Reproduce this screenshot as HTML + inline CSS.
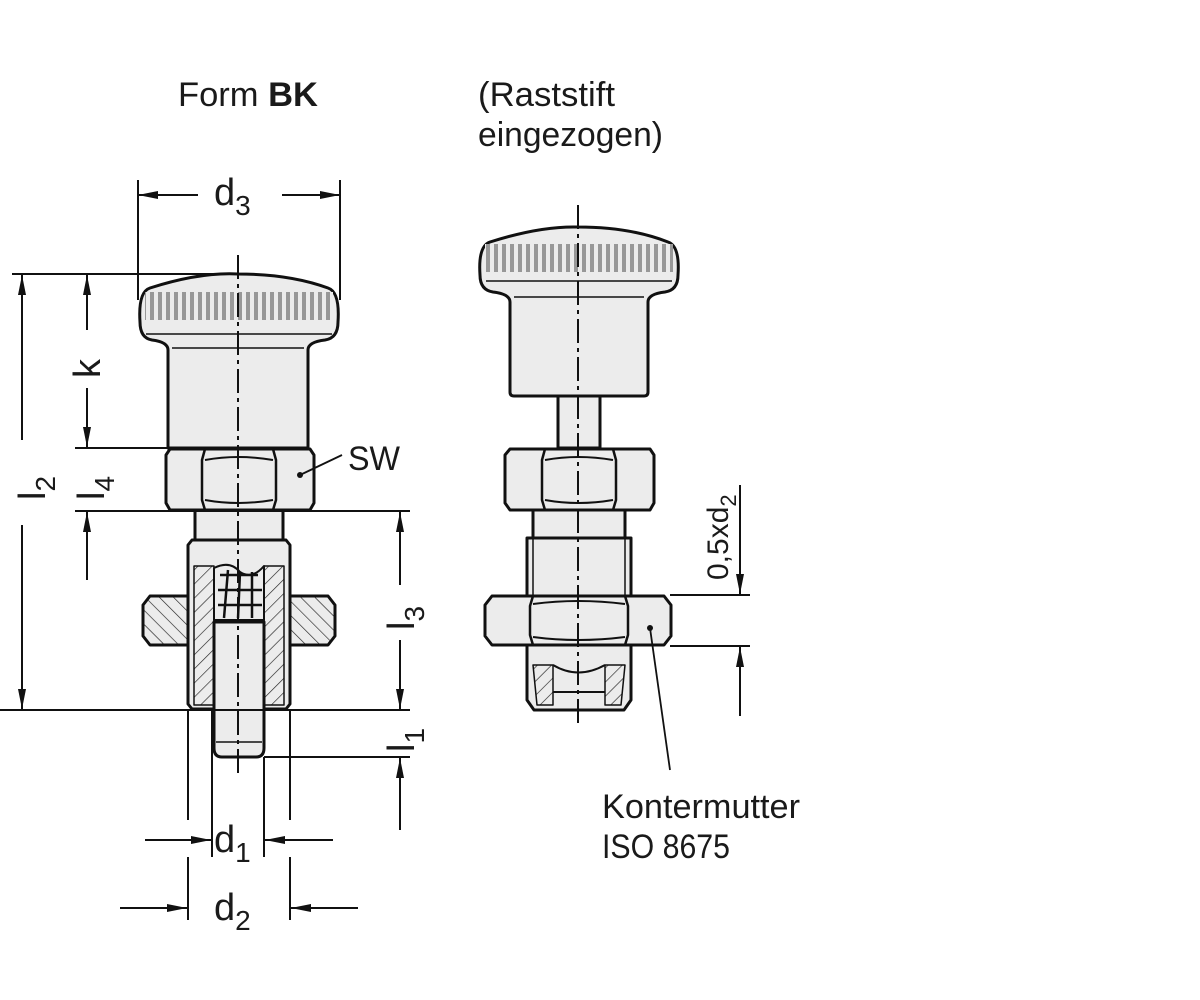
<!DOCTYPE html>
<html><head><meta charset="utf-8"><style>
html,body{margin:0;padding:0;background:#fff;}
svg{display:block;}
text{font-family:"Liberation Sans Narrow","Liberation Sans",sans-serif;fill:#1a1a1a;}
</style></head><body>
<svg width="1200" height="1000" viewBox="0 0 1200 1000" xmlns="http://www.w3.org/2000/svg">
<defs>
<pattern id="knurl" width="8" height="40" patternUnits="userSpaceOnUse">
<rect width="8" height="40" fill="#ececec"/>
<path d="M1 4 V40 M4 0 L1 4 M4 0 L7 4 M7 4 V40" stroke="#333" stroke-width="0.9" fill="none"/>
</pattern>
<pattern id="hatch" width="10" height="10" patternUnits="userSpaceOnUse" patternTransform="rotate(45)">
<rect width="10" height="10" fill="#ececec"/>
<line x1="0" y1="0" x2="0" y2="10" stroke="#222" stroke-width="1.3"/>
</pattern>
<pattern id="hatch2" width="10" height="10" patternUnits="userSpaceOnUse" patternTransform="rotate(-45)">
<rect width="10" height="10" fill="#ececec"/>
<line x1="0" y1="0" x2="0" y2="10" stroke="#222" stroke-width="1.3"/>
</pattern>
<marker id="ar" viewBox="0 0 20 10" refX="20" refY="5" markerWidth="20" markerHeight="10" markerUnits="userSpaceOnUse" orient="auto-start-reverse">
<path d="M0 1 L20 5 L0 9 Z" fill="#111"/>
</marker>
</defs>

<text x="178" y="106" font-size="34" textLength="140" lengthAdjust="spacingAndGlyphs">Form <tspan font-weight="bold">BK</tspan></text>
<text x="478" y="106" font-size="34" textLength="137" lengthAdjust="spacingAndGlyphs">(Raststift</text>
<text x="478" y="146" font-size="34" textLength="185" lengthAdjust="spacingAndGlyphs">eingezogen)</text>

<g stroke="#111" stroke-width="3" fill="#ececec" stroke-linejoin="round">
<!-- LEFT -->
<path d="M140 322 Q138 292 150 288 Q200 272 238 274 Q290 274 328 288 Q340 292 338 322 Q338 338 325 340 Q308 342 308 350 L308 448 L168 448 L168 350 Q168 342 152 340 Q140 338 140 322 Z"/>
<rect x="145" y="292" width="188" height="28" fill="url(#knurl)" stroke="none"/>
<line x1="146" y1="334" x2="332" y2="334" stroke-width="1.5"/>
<line x1="172" y1="348" x2="304" y2="348" stroke-width="1.5"/>
<path d="M166 455 L170 449 L310 449 L314 455 L314 503 L310 510 L170 510 L166 503 Z"/>
<path d="M205 449 L202 460 L202 500 L205 510 M273 449 L276 460 L276 500 L273 510" fill="none" stroke-width="2.5"/>
<path d="M205 460 Q238 454 273 460 M205 500 Q238 506 273 500" fill="none" stroke-width="2"/>
<rect x="195" y="510" width="88" height="32"/>
<path d="M143 605 L150 596 L188 596 L188 645 L150 645 L143 636 Z" fill="url(#hatch2)"/>
<path d="M335 605 L328 596 L290 596 L290 645 L328 645 L335 636 Z" fill="url(#hatch2)"/>
<path d="M188 545 L192 540 L286 540 L290 545 L290 704 L286 709 L192 709 L188 704 Z"/>
<path d="M194 566 L214 566 L214 705 L194 705 Z" fill="url(#hatch)" stroke-width="1.5"/>
<path d="M264 566 L284 566 L284 705 L264 705 Z" fill="url(#hatch)" stroke-width="1.5"/>
<path d="M214 568 Q230 560 240 572 Q252 580 264 566 L264 620 L214 620 Z" fill="#ececec" stroke-width="2"/>
<path d="M220 575 L258 575 M218 590 L262 590 M218 605 L262 605 M228 570 L224 618 M240 572 L238 618 M252 572 L252 618" fill="none" stroke-width="2.5"/>
<path d="M214 622 L264 622 L264 748 Q264 757 256 757 L222 757 Q214 757 214 748 Z"/>
<line x1="216" y1="742" x2="262" y2="742" stroke-width="1.5"/>

<!-- RIGHT -->
<path d="M480 275 Q478 246 490 242 Q540 226 578 227 Q630 227 668 242 Q680 246 678 275 Q678 290 665 292 Q648 294 648 302 L648 392 Q648 396 644 396 L514 396 Q510 396 510 392 L510 302 Q510 294 493 292 Q480 290 480 275 Z"/>
<rect x="485" y="244" width="188" height="28" fill="url(#knurl)" stroke="none"/>
<line x1="486" y1="281" x2="672" y2="281" stroke-width="1.5"/>
<line x1="514" y1="297" x2="644" y2="297" stroke-width="1.5"/>
<rect x="558" y="396" width="42" height="52"/>
<path d="M505 455 L510 449 L650 449 L654 455 L654 503 L650 510 L510 510 L505 503 Z"/>
<path d="M545 449 L542 460 L542 500 L545 510 M613 449 L616 460 L616 500 L613 510" fill="none" stroke-width="2.5"/>
<path d="M545 460 Q578 454 613 460 M545 500 Q578 506 613 500" fill="none" stroke-width="2"/>
<rect x="533" y="510" width="92" height="28"/>
<rect x="527" y="538" width="104" height="58"/>
<line x1="533" y1="538" x2="533" y2="596" stroke-width="1.5"/>
<line x1="625" y1="538" x2="625" y2="596" stroke-width="1.5"/>
<path d="M527 645 L631 645 L631 700 L624 710 L534 710 L527 700 Z"/>
<path d="M533 665 L553 665 L553 705 L537 705 Z" fill="url(#hatch)" stroke-width="1.5"/>
<path d="M605 665 L625 665 L621 705 L605 705 Z" fill="url(#hatch)" stroke-width="1.5"/>
<path d="M553 665 Q578 680 605 665 M553 692 L605 692" fill="none" stroke-width="2"/>
<path d="M485 605 L492 596 L664 596 L671 605 L671 636 L664 645 L492 645 L485 636 Z"/>
<path d="M533 596 L530 606 L530 635 L533 645 M625 596 L628 606 L628 635 L625 645" fill="none" stroke-width="2.5"/>
<path d="M533 604 Q578 598 625 604 M533 637 Q578 643 625 637" fill="none" stroke-width="2"/>
</g>

<!-- centerlines -->
<g stroke="#111" stroke-width="2" fill="none">
<path d="M238 255 V775" stroke-dasharray="24 5 4 5"/>
<path d="M578 205 V728" stroke-dasharray="24 5 4 5"/>
</g>

<!-- dimension lines -->
<g stroke="#111" stroke-width="2" fill="none">
<line x1="12" y1="274" x2="240" y2="274"/>
<line x1="138" y1="180" x2="138" y2="300"/>
<line x1="340" y1="180" x2="340" y2="300"/>
<line x1="138" y1="195" x2="198" y2="195" marker-start="url(#ar)"/>
<line x1="282" y1="195" x2="340" y2="195" marker-end="url(#ar)"/>
<line x1="22" y1="275" x2="22" y2="440" marker-start="url(#ar)"/>
<line x1="22" y1="525" x2="22" y2="709" marker-end="url(#ar)"/>
<line x1="87" y1="275" x2="87" y2="330" marker-start="url(#ar)"/>
<line x1="87" y1="388" x2="87" y2="447" marker-end="url(#ar)"/>
<line x1="75" y1="448" x2="168" y2="448"/>
<line x1="75" y1="511" x2="410" y2="511"/>
<line x1="87" y1="580" x2="87" y2="512" marker-end="url(#ar)"/>
<line x1="0" y1="710" x2="410" y2="710"/>
<line x1="264" y1="757" x2="410" y2="757"/>
<line x1="400" y1="512" x2="400" y2="585" marker-start="url(#ar)"/>
<line x1="400" y1="640" x2="400" y2="709" marker-end="url(#ar)"/>
<line x1="400" y1="830" x2="400" y2="758" marker-end="url(#ar)"/>
<line x1="212" y1="710" x2="212" y2="857"/>
<line x1="264" y1="757" x2="264" y2="857"/>
<line x1="188" y1="710" x2="188" y2="820"/>
<line x1="290" y1="710" x2="290" y2="820"/>
<line x1="188" y1="857" x2="188" y2="920"/>
<line x1="290" y1="857" x2="290" y2="920"/>
<line x1="145" y1="840" x2="211" y2="840" marker-end="url(#ar)"/>
<line x1="333" y1="840" x2="265" y2="840" marker-end="url(#ar)"/>
<line x1="120" y1="908" x2="187" y2="908" marker-end="url(#ar)"/>
<line x1="358" y1="908" x2="291" y2="908" marker-end="url(#ar)"/>
<line x1="300" y1="475" x2="342" y2="455" stroke-width="1.8"/>
<line x1="670" y1="595" x2="750" y2="595"/>
<line x1="670" y1="646" x2="750" y2="646"/>
<line x1="740" y1="485" x2="740" y2="594" marker-end="url(#ar)"/>
<line x1="740" y1="716" x2="740" y2="647" marker-end="url(#ar)"/>
<line x1="650" y1="628" x2="670" y2="770" stroke-width="1.8"/>
</g>
<circle cx="300" cy="475" r="3" fill="#111"/>
<circle cx="650" cy="628" r="3" fill="#111"/>

<g font-size="38">
<text x="214" y="205">d<tspan font-size="28" dy="10">3</tspan></text>
<text x="214" y="852">d<tspan font-size="28" dy="10">1</tspan></text>
<text x="214" y="920">d<tspan font-size="28" dy="10">2</tspan></text>
<text x="348" y="470" font-size="34" textLength="52" lengthAdjust="spacingAndGlyphs">SW</text>
<text transform="translate(100,378) rotate(-90)">k</text>
<text transform="translate(45,500) rotate(-90)">l<tspan font-size="28" dy="10">2</tspan></text>
<text transform="translate(104,500) rotate(-90)">l<tspan font-size="28" dy="10">4</tspan></text>
<text transform="translate(414,630) rotate(-90)">l<tspan font-size="28" dy="10">3</tspan></text>
<text transform="translate(414,752) rotate(-90)">l<tspan font-size="28" dy="10">1</tspan></text>
<text transform="translate(728,580) rotate(-90)" font-size="30">0,5xd<tspan font-size="22" dy="8">2</tspan></text>
</g>
<text x="602" y="818" font-size="34" textLength="198" lengthAdjust="spacingAndGlyphs">Kontermutter</text>
<text x="602" y="858" font-size="34" textLength="128" lengthAdjust="spacingAndGlyphs">ISO 8675</text>
</svg>
</body></html>
